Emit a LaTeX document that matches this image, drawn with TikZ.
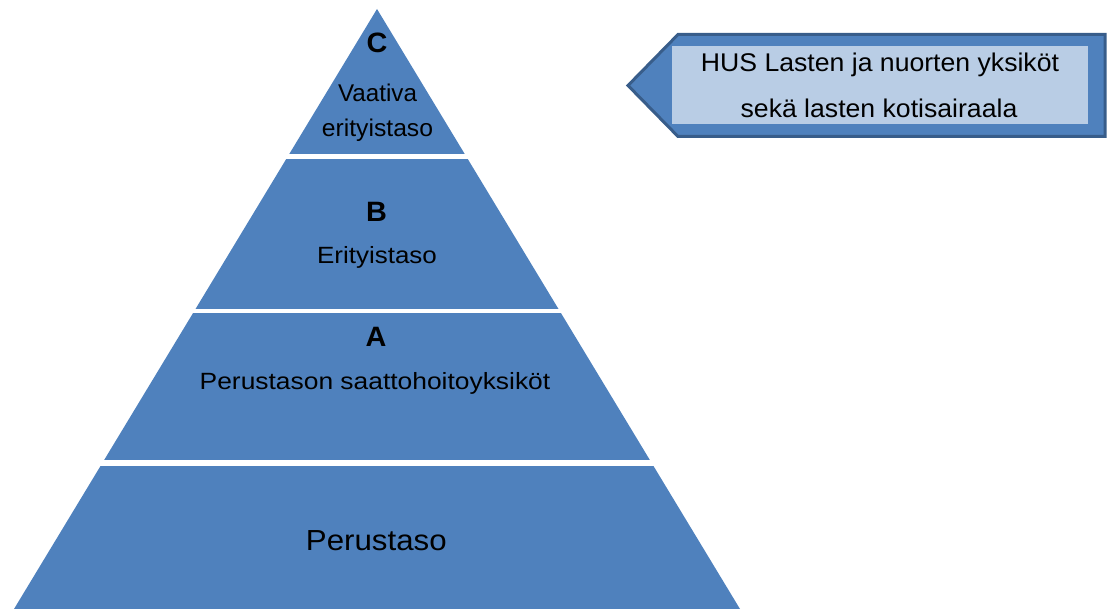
\documentclass[tikz,border=0pt]{standalone}
\usepackage{fontspec}
\setmainfont{Liberation Sans}
\usepackage{graphicx}
\definecolor{pyrblue}{HTML}{4F81BD}
\definecolor{darkedge}{HTML}{385D8A}
\definecolor{lightfill}{HTML}{B9CDE5}
\newcommand\lbltxt[3]{\scalebox{#2}[1]{\fontsize{#1}{#1}\selectfont #3}}
\begin{document}
\begin{tikzpicture}[x=1pt,y=-1pt,
  lbl/.style={anchor=base,inner sep=0pt,outer sep=0pt,text=black},
  band/.style={fill=pyrblue}]
\useasboundingbox (0,0) rectangle (1108,609);
% pyramid
\begin{scope}
\clip (377,9) -- (740,609) -- (14,609) -- cycle;
\fill[band] (0,0) rectangle (1108,154.5);
\fill[band] (0,159.5) rectangle (1108,309);
\fill[band] (0,312.8) rectangle (1108,459.5);
\fill[band] (0,466) rectangle (1108,610);
\end{scope}
% layer texts
\node[lbl] (c) at (377,52.3) {\lbltxt{28}{1.03}{\bfseries C}};
\node[lbl] (c1) at (377.5,101.7) {\lbltxt{24.2}{1.0}{Vaativa}};
\node[lbl] (c2) at (377.5,136.7) {\lbltxt{24.2}{1.02}{erityistaso}};
\node[lbl] (b) at (376.5,222) {\lbltxt{28}{1.03}{\bfseries B}};
\node[lbl] (b1) at (377,264) {\lbltxt{23.5}{1.105}{Erityistaso}};
\node[lbl] (a) at (376,347) {\lbltxt{28}{1.03}{\bfseries A}};
\node[lbl] (a1) at (375,389) {\lbltxt{23.5}{1.123}{Perustason saattohoitoyksiköt}};
\node[lbl] (d1) at (376.3,550.7) {\lbltxt{29}{1.078}{Perustaso}};
% callout
\draw[darkedge,line width=3pt,fill=pyrblue,line join=miter]
  (628,85.5) -- (678,34.5) -- (1105,34.5) -- (1105,136.5) -- (678,136.5) -- cycle;
\node[fill=lightfill,inner sep=0pt,minimum width=416pt,minimum height=78pt] (box) at (880,85) {};
\node[lbl] (h1) at (880,71.7) {\lbltxt{25.6}{1.04}{HUS Lasten ja nuorten yksiköt}};
\node[lbl] (h2) at (879,117.3) {\lbltxt{25.6}{1.04}{sekä lasten kotisairaala}};
\end{tikzpicture}
\end{document}
